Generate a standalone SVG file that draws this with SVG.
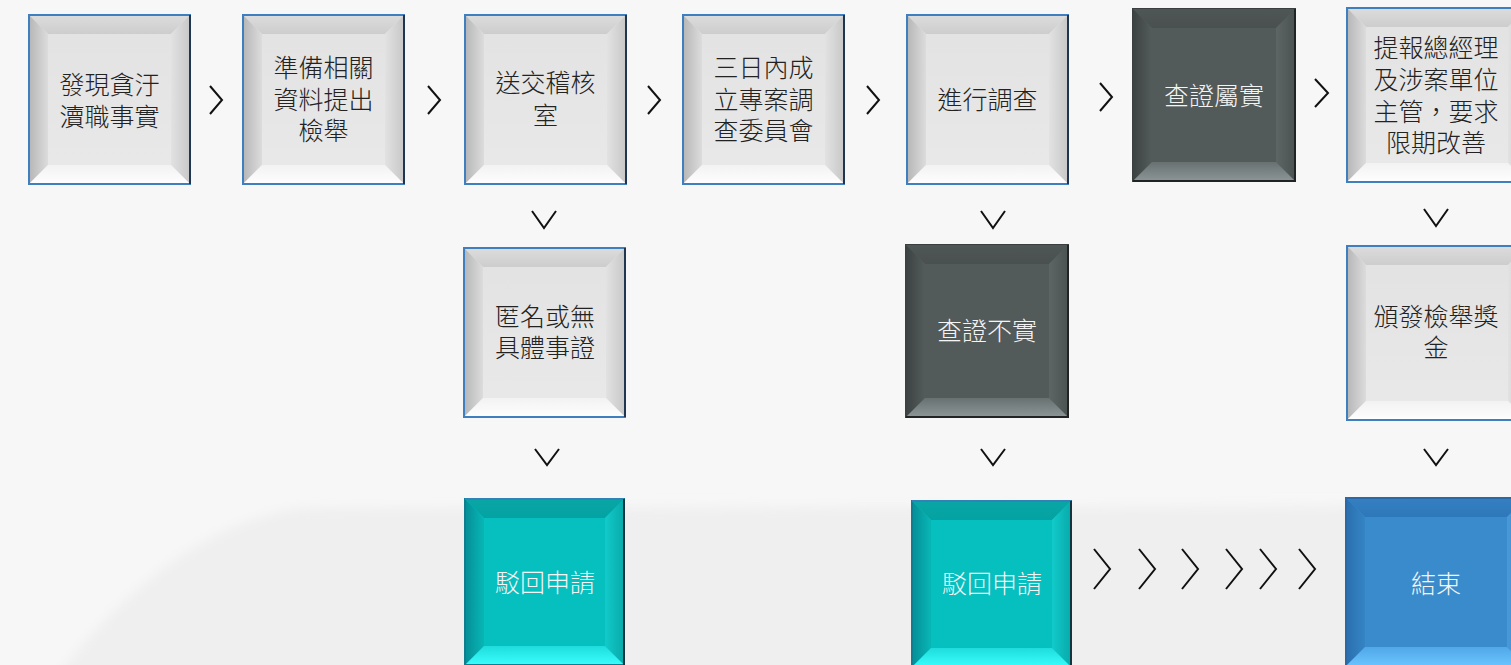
<svg xmlns="http://www.w3.org/2000/svg" xmlns:xlink="http://www.w3.org/1999/xlink" width="1511" height="665" viewBox="0 0 1511 665" xml:lang="zh-Hant-TW">
<style>
.t{font-family:"Liberation Sans","Noto Sans CJK TC",sans-serif;font-size:25px;text-anchor:middle;font-weight:300}
.tl{fill:#222222}
.tw{fill:#f4f4f4}
.ch{fill:none;stroke:#111111;stroke-width:2;stroke-linejoin:miter}
.bl{fill:none;stroke:#3f7fbf;stroke-width:2}
.bd{fill:none;stroke:#1f3550;stroke-width:2}
</style>
<defs>
<filter id="soft" x="-5%" y="-20%" width="110%" height="140%"><feGaussianBlur stdDeviation="6"/></filter>
<linearGradient id="v-lt-top" x1="0" y1="0" x2="0" y2="1"><stop offset="0" stop-color="#dddddd"/><stop offset="1" stop-color="#cdcdcd"/></linearGradient>
<linearGradient id="h-lt-left" x1="0" y1="0" x2="1" y2="0"><stop offset="0" stop-color="#b4b4b4"/><stop offset="1" stop-color="#dcdcdc"/></linearGradient>
<linearGradient id="h-lt-right" x1="0" y1="0" x2="1" y2="0"><stop offset="0" stop-color="#e2e2e2"/><stop offset="1" stop-color="#c6c6c6"/></linearGradient>
<linearGradient id="v-lt-bot" x1="0" y1="0" x2="0" y2="1"><stop offset="0" stop-color="#f2f2f2"/><stop offset="1" stop-color="#ffffff"/></linearGradient>
<linearGradient id="v-lt-face" x1="0" y1="0" x2="0" y2="1"><stop offset="0" stop-color="#e2e2e2"/><stop offset="1" stop-color="#e9e9e9"/></linearGradient>

<linearGradient id="v-dk-top" x1="0" y1="0" x2="0" y2="1"><stop offset="0" stop-color="#4f5656"/><stop offset="1" stop-color="#4a5050"/></linearGradient>
<linearGradient id="h-dk-left" x1="0" y1="0" x2="1" y2="0"><stop offset="0" stop-color="#3b4141"/><stop offset="1" stop-color="#545b5b"/></linearGradient>
<linearGradient id="h-dk-right" x1="0" y1="0" x2="1" y2="0"><stop offset="0" stop-color="#5d6565"/><stop offset="1" stop-color="#4a5151"/></linearGradient>
<linearGradient id="v-dk-bot" x1="0" y1="0" x2="0" y2="1"><stop offset="0" stop-color="#687070"/><stop offset="1" stop-color="#8f9898"/></linearGradient>

<linearGradient id="v-tl-top" x1="0" y1="0" x2="0" y2="1"><stop offset="0" stop-color="#0aa6a6"/><stop offset="1" stop-color="#04a2a2"/></linearGradient>
<linearGradient id="h-tl-left" x1="0" y1="0" x2="1" y2="0"><stop offset="0" stop-color="#048c94"/><stop offset="1" stop-color="#08b6b6"/></linearGradient>
<linearGradient id="h-tl-right" x1="0" y1="0" x2="1" y2="0"><stop offset="0" stop-color="#12caca"/><stop offset="1" stop-color="#08a8a8"/></linearGradient>
<linearGradient id="v-tl-bot" x1="0" y1="0" x2="0" y2="1"><stop offset="0" stop-color="#1fdcdc"/><stop offset="1" stop-color="#3dffff"/></linearGradient>

<linearGradient id="v-bl-top" x1="0" y1="0" x2="0" y2="1"><stop offset="0" stop-color="#3580c2"/><stop offset="1" stop-color="#2e78ba"/></linearGradient>
<linearGradient id="h-bl-left" x1="0" y1="0" x2="1" y2="0"><stop offset="0" stop-color="#2a6eae"/><stop offset="1" stop-color="#3584c4"/></linearGradient>
<linearGradient id="h-bl-right" x1="0" y1="0" x2="1" y2="0"><stop offset="0" stop-color="#4a98d8"/><stop offset="1" stop-color="#3a86c6"/></linearGradient>
<linearGradient id="v-bl-bot" x1="0" y1="0" x2="0" y2="1"><stop offset="0" stop-color="#50a8e8"/><stop offset="1" stop-color="#6cc4ff"/></linearGradient>

<g id="box-light">
<rect x="0" y="0" width="163" height="171" fill="url(#v-lt-face)"/>
<polygon points="0,0 163,0 143,20 20,20" fill="url(#v-lt-top)"/>
<polygon points="0,0 20,20 20,151 0,171" fill="url(#h-lt-left)"/>
<polygon points="163,0 143,20 143,151 163,171" fill="url(#h-lt-right)"/>
<polygon points="0,171 163,171 143,151 20,151" fill="url(#v-lt-bot)"/>
<rect x="1" y="1" width="161" height="169" class="bl"/>
<path d="M162,1 V170" class="bd"/>
</g>
<g id="box-light-wide">
<rect x="0" y="0" width="182" height="176" fill="url(#v-lt-face)"/>
<polygon points="0,0 182,0 162,20 20,20" fill="url(#v-lt-top)"/>
<polygon points="0,0 20,20 20,156 0,176" fill="url(#h-lt-left)"/>
<polygon points="182,0 162,20 162,156 182,176" fill="url(#h-lt-right)"/>
<polygon points="0,176 182,176 162,156 20,156" fill="url(#v-lt-bot)"/>
<rect x="1" y="1" width="180" height="174" class="bl"/>
</g>
<g id="box-dark">
<rect x="0" y="0" width="164" height="174" fill="#535a5a"/>
<polygon points="0,0 164,0 144,20 20,20" fill="url(#v-dk-top)"/>
<polygon points="0,0 20,20 20,154 0,174" fill="url(#h-dk-left)"/>
<polygon points="164,0 144,20 144,154 164,174" fill="url(#h-dk-right)"/>
<polygon points="0,174 164,174 144,154 20,154" fill="url(#v-dk-bot)"/>
<rect x="0.5" y="0.5" width="163" height="173" fill="none" stroke="#3a4040" stroke-width="1"/>
<path d="M163,1 V173 H1" fill="none" stroke="#202424" stroke-width="2"/>
</g>
<g id="box-teal">
<rect x="0" y="0" width="161" height="168" fill="#06bfbf"/>
<polygon points="0,0 161,0 141,20 20,20" fill="url(#v-tl-top)"/>
<polygon points="0,0 20,20 20,148 0,168" fill="url(#h-tl-left)"/>
<polygon points="161,0 141,20 141,148 161,168" fill="url(#h-tl-right)"/>
<polygon points="0,168 161,168 141,148 20,148" fill="url(#v-tl-bot)"/>
<rect x="1" y="1" width="159" height="166" fill="none" stroke="#0e7f90" stroke-width="2"/>
<path d="M1,1 H160" stroke="#3182b8" stroke-width="2"/>
<path d="M160,1 V167" stroke="#16343e" stroke-width="2"/>
</g>
<g id="box-blue">
<rect x="0" y="0" width="182" height="170" fill="#3a8bcc"/>
<polygon points="0,0 182,0 162,20 20,20" fill="url(#v-bl-top)"/>
<polygon points="0,0 20,20 20,150 0,170" fill="url(#h-bl-left)"/>
<polygon points="182,0 162,20 162,150 182,170" fill="url(#h-bl-right)"/>
<polygon points="0,170 182,170 162,150 20,150" fill="url(#v-bl-bot)"/>
<rect x="1" y="1" width="180" height="168" fill="none" stroke="#2b68a6" stroke-width="2"/>
</g>
</defs>

<g id="background">
<rect x="0" y="0" width="1511" height="665" fill="#f7f7f7"/>
<path d="M-20,700 L40,700 Q160,530 300,508 L1540,506 L1540,700 Z" fill="#efefef" filter="url(#soft)"/>
</g>

<g id="connectors">
<polyline class="ch" points="210,86 222,100 210,114"/>
<polyline class="ch" points="428,86 440,100 428,114"/>
<polyline class="ch" points="648,86 660,100 648,114"/>
<polyline class="ch" points="867,86 879,100 867,114"/>
<polyline class="ch" points="1100,83 1112,97 1100,111"/>
<polyline class="ch" points="1315,79 1328,93 1315,107"/>
<polyline class="ch" points="532,211 544,228 556,211"/>
<polyline class="ch" points="535,449 547,465 559,449"/>
<polyline class="ch" points="981,211 993,228 1005,211"/>
<polyline class="ch" points="981,449 993,465 1005,449"/>
<polyline class="ch" points="1424,209 1436,226 1448,209"/>
<polyline class="ch" points="1424,449 1436,465 1448,449"/>
<polyline class="ch" points="1094,549 1110,569 1094,589"/>
<polyline class="ch" points="1139,549 1155,569 1139,589"/>
<polyline class="ch" points="1182,549 1198,569 1182,589"/>
<polyline class="ch" points="1226,549 1242,569 1226,589"/>
<polyline class="ch" points="1260,549 1276,569 1260,589"/>
<polyline class="ch" points="1299,549 1315,569 1299,589"/>
</g>

<g id="n1" transform="translate(28,14)">
<use xlink:href="#box-light"/>
<text class="t tl" x="81.5" y="80">發現貪汙</text>
<text class="t tl" x="81.5" y="112">瀆職事實</text>
</g>
<g id="n2" transform="translate(242,14)">
<use xlink:href="#box-light"/>
<text class="t tl" x="81.5" y="63">準備相關</text>
<text class="t tl" x="81.5" y="95">資料提出</text>
<text class="t tl" x="81.5" y="126">檢舉</text>
</g>
<g id="n3" transform="translate(464,14)">
<use xlink:href="#box-light"/>
<text class="t tl" x="81.5" y="78">送交稽核</text>
<text class="t tl" x="81.5" y="111">室</text>
</g>
<g id="n4" transform="translate(682,14)">
<use xlink:href="#box-light"/>
<text class="t tl" x="81.5" y="63">三日內成</text>
<text class="t tl" x="81.5" y="95">立專案調</text>
<text class="t tl" x="81.5" y="126">查委員會</text>
</g>
<g id="n5" transform="translate(906,14)">
<use xlink:href="#box-light"/>
<text class="t tl" x="81.5" y="95">進行調查</text>
</g>
<g id="n6" transform="translate(1132,8)">
<use xlink:href="#box-dark"/>
<text class="t tw" x="82" y="97">查證屬實</text>
</g>
<g id="n7" transform="translate(1346,7)">
<use xlink:href="#box-light-wide"/>
<text class="t tl" x="90" y="50">提報總經理</text>
<text class="t tl" x="90" y="82">及涉案單位</text>
<text class="t tl" x="90" y="114">主管，要求</text>
<text class="t tl" x="90" y="145">限期改善</text>
</g>
<g id="n8" transform="translate(463,247)">
<use xlink:href="#box-light"/>
<text class="t tl" x="82" y="79">匿名或無</text>
<text class="t tl" x="82" y="110">具體事證</text>
</g>
<g id="n9" transform="translate(905,244)">
<use xlink:href="#box-dark"/>
<text class="t tw" x="82" y="96">查證不實</text>
</g>
<g id="n10" transform="translate(1346,245)">
<use xlink:href="#box-light-wide"/>
<text class="t tl" x="90" y="81">頒發檢舉獎</text>
<text class="t tl" x="90" y="112">金</text>
</g>
<g id="n11" transform="translate(464,498)">
<use xlink:href="#box-teal"/>
<text class="t tw" x="81" y="94">駁回申請</text>
</g>
<g id="n12" transform="translate(911,500)">
<use xlink:href="#box-teal"/>
<text class="t tw" x="81" y="93">駁回申請</text>
</g>
<g id="n13" transform="translate(1345,497)">
<use xlink:href="#box-blue"/>
<text class="t tw" x="91" y="96">結束</text>
</g>
</svg>
